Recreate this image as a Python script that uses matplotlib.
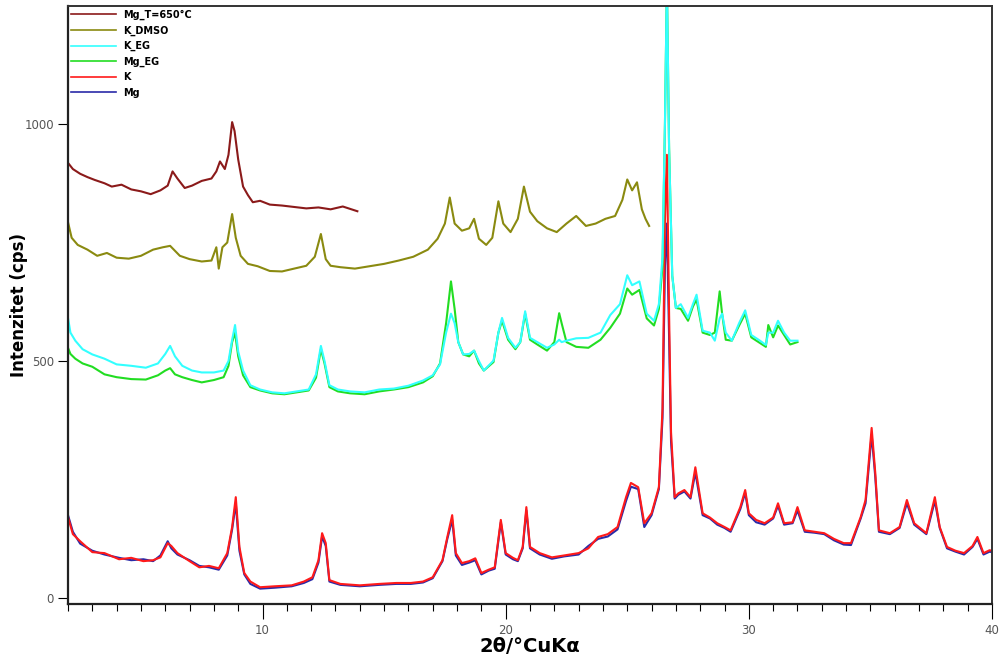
import matplotlib
matplotlib.use("Agg")
import matplotlib.pyplot as plt
from matplotlib.ticker import MultipleLocator

# ---------------- data ----------------
x_650 = [2.0, 2.2, 2.5, 2.8, 3.1, 3.5, 3.8, 4.2, 4.6, 5.0, 5.4, 5.8, 6.1, 6.3, 6.5, 6.8,
         7.1, 7.5, 7.9, 8.1, 8.25, 8.45, 8.6, 8.75, 8.85, 9.0, 9.2, 9.4, 9.6, 9.9, 10.3,
         10.8, 11.3, 11.8, 12.3, 12.8, 13.3, 13.9]
mg_650 = [918, 905, 895, 888, 882, 875, 868, 872, 862, 858, 852, 860, 870, 900, 885, 865,
          870, 880, 885, 900, 921, 905, 935, 1004, 985, 925, 868, 850, 835, 838, 830,
          828, 825, 822, 824, 820, 826, 816]

x_dmso = [2.0, 2.15, 2.4, 2.8, 3.2, 3.6, 4.0, 4.5, 5.0, 5.5, 5.9, 6.2, 6.6, 7.0, 7.5, 7.9,
          8.1, 8.2, 8.35, 8.55, 8.75, 8.9, 9.1, 9.4, 9.8, 10.3, 10.8, 11.3, 11.8, 12.15,
          12.4, 12.6, 12.8, 13.2, 13.8, 14.4, 15.0, 15.6, 16.2, 16.8, 17.2, 17.5, 17.7,
          17.9, 18.2, 18.5, 18.7, 18.9, 19.2, 19.45, 19.7, 19.9, 20.2, 20.5, 20.75, 21.0,
          21.3, 21.7, 22.1, 22.5, 22.9, 23.3, 23.7, 24.1, 24.5, 24.8, 25.0, 25.2, 25.4,
          25.6, 25.75, 25.9]
k_dmso = [793, 760, 745, 735, 722, 728, 718, 716, 722, 735, 740, 743, 722, 715, 710, 712,
          740, 695, 740, 750, 810, 760, 722, 705, 700, 690, 689, 695, 701, 720,
          768, 715, 701, 698, 695, 700, 705, 712, 720, 735, 758, 790, 845,
          790, 775, 780, 800, 758, 745, 760, 837, 790, 772, 800, 868, 815,
          795, 780, 772, 790, 806, 785, 790, 800, 806, 840, 883, 860, 877,
          820, 800, 785]

x_eg = [2.0, 2.1, 2.3, 2.6, 3.0, 3.5, 4.0, 4.6, 5.2, 5.7, 6.0, 6.2, 6.4, 6.7, 7.1, 7.5,
        8.0, 8.4, 8.6, 8.75, 8.87, 9.0, 9.2, 9.5, 9.9, 10.4, 10.9, 11.4, 11.9, 12.2, 12.4,
        12.55, 12.75, 13.1, 13.6, 14.2, 14.8, 15.4, 16.0, 16.6, 17.0, 17.3, 17.55, 17.75,
        17.9, 18.05, 18.25, 18.5, 18.7, 18.9, 19.1, 19.5, 19.7, 19.85, 20.1, 20.4, 20.6,
        20.8, 21.0, 21.3, 21.7, 22.0, 22.2, 22.3, 22.5, 22.9, 23.4, 23.9, 24.3, 24.7,
        25.0, 25.2, 25.5, 25.8, 26.1, 26.3, 26.45, 26.55, 26.63, 26.72, 26.85, 27.0,
        27.2, 27.5, 27.7, 27.85, 28.1, 28.4, 28.6, 28.8, 28.9, 29.05, 29.3, 29.6, 29.85,
        30.1, 30.4, 30.7, 30.8, 31.0, 31.2, 31.45, 31.7, 32.0]
k_eg = [591, 560, 543, 525, 514, 505, 493, 490, 486, 495, 515, 532, 510, 490, 480, 476,
        476, 480, 500, 545, 576, 520, 480, 449, 440, 434, 432, 436, 440, 472, 532,
        500, 449, 440, 436, 434, 440, 442, 448, 459, 470, 493, 560, 600,
        580, 540, 514, 515, 522, 500, 480, 501, 560, 591, 549, 528, 540,
        605, 549, 540, 528, 535, 545, 540, 543, 548, 549, 560, 597, 620,
        681, 660, 668, 600, 585, 620, 720, 1000, 1300, 950, 680, 612,
        620, 591, 620, 640, 564, 560, 543, 590, 600, 560, 543, 580, 607,
        555, 545, 534, 560, 560, 585, 560, 543, 543]
mg_eg = [528, 515, 505, 495, 488, 472, 466, 462, 461, 470, 480, 485, 472, 466, 460, 455,
         460, 466, 490, 540, 560, 510, 470, 445, 438, 432, 430, 434, 438, 465, 525,
         495, 445, 436, 432, 430, 436, 440, 445, 455, 468, 495, 580, 668,
         610, 540, 514, 510, 522, 495, 480, 498, 560, 585, 545, 525, 540,
         600, 545, 535, 522, 540, 601, 580, 540, 530, 528, 545, 570, 600,
         653, 640, 650, 590, 575, 610, 700, 1000, 1300, 950, 680, 612,
         610, 585, 615, 630, 560, 555, 560, 647, 600, 545, 543, 575, 600,
         550, 540, 530, 576, 550, 575, 555, 535, 540]

x_base = [2.0, 2.2, 2.5, 3.0, 3.5, 4.1, 4.6, 5.1, 5.5, 5.8, 6.1, 6.25, 6.5, 7.0, 7.4, 7.8,
          8.2, 8.55, 8.75, 8.9, 9.05, 9.25, 9.5, 9.9, 10.5, 11.2, 11.7, 12.05, 12.3, 12.45,
          12.6, 12.75, 13.2, 14.0, 14.8, 15.5, 16.1, 16.6, 17.0, 17.4, 17.6, 17.8, 17.95,
          18.2, 18.5, 18.75, 19.0, 19.3, 19.55, 19.8, 20.0, 20.3, 20.5, 20.7, 20.85, 21.0,
          21.4, 21.9, 22.4, 23.0, 23.4, 23.8, 24.2, 24.6, 24.95, 25.15, 25.45, 25.7, 26.0,
          26.3, 26.45, 26.55, 26.63, 26.72, 26.8, 26.95, 27.1, 27.35, 27.6, 27.8, 28.1,
          28.4, 28.7, 29.0, 29.25, 29.65, 29.85, 30.0, 30.3, 30.65, 31.0, 31.2, 31.45,
          31.8, 32.0, 32.3, 32.7, 33.1, 33.5, 33.9, 34.2, 34.6, 34.8, 35.05, 35.2, 35.35,
          35.8, 36.2, 36.5, 36.8, 37.3, 37.65, 37.85, 38.15, 38.5, 38.85, 39.2, 39.4,
          39.65, 39.9, 40.0]
k_base = [171, 135, 120, 97, 95, 82, 85, 78, 80, 86, 116, 110, 95, 78, 65, 68,
          63, 95, 150, 213, 108, 53, 35, 23, 25, 27, 35, 44, 80, 137,
          116, 38, 30, 27, 30, 32, 32, 35, 44, 80, 129, 175, 95,
          74, 78, 84, 53, 60, 65, 165, 95, 85, 80, 108, 192, 108,
          95, 86, 90, 95, 105, 129, 135, 150, 213, 243, 234, 158, 179,
          234, 400, 800, 935, 600, 350, 213, 221, 228, 213, 276, 179,
          170, 158, 150, 143, 192, 228, 179, 165, 158, 170, 200, 158,
          160, 192, 143, 140, 137, 125, 116, 116, 171, 207, 359, 264, 143,
          137, 150, 207, 158, 137, 213, 150, 108, 100, 95, 110, 129,
          95, 101, 100]
mg_base = [175, 140, 115, 100, 92, 85, 80, 82, 78, 90, 120, 105, 92, 80, 68, 65,
           60, 90, 145, 200, 100, 50, 30, 20, 22, 25, 32, 40, 75, 130,
           110, 35, 28, 25, 28, 30, 30, 33, 42, 78, 125, 165, 90,
           70, 75, 80, 50, 58, 62, 160, 92, 82, 78, 105, 185, 105,
           92, 83, 88, 92, 110, 125, 130, 145, 205, 235, 230, 150, 175,
           230, 380, 700, 790, 550, 330, 210, 218, 225, 210, 265, 175,
           168, 155, 148, 140, 188, 222, 175, 160, 155, 168, 195, 155,
           158, 185, 140, 138, 135, 122, 113, 112, 168, 200, 345, 255, 140,
           135, 148, 200, 155, 135, 205, 148, 105, 98, 92, 108, 125,
           92, 98, 97]

labels = ["Mg_T=650°C", "K_DMSO", "K_EG", "Mg_EG", "K", "Mg"]
colors = ["#8b1a1a", "#8a8a10", "#33ffff", "#22dd22", "#ff1a1a", "#2a2aa8"]

# ---------------- figure ----------------
fig = plt.figure(figsize=(10, 6.59), dpi=100)
ax = fig.add_axes([0.068, 0.083, 0.924, 0.908])

lw = 1.5
h_mg, = ax.plot(x_base, mg_base, color=colors[5], lw=lw, label=labels[5])
h_k, = ax.plot(x_base, k_base, color=colors[4], lw=lw, label=labels[4])
h_mgeg, = ax.plot(x_eg, mg_eg, color=colors[3], lw=lw, label=labels[3])
h_keg, = ax.plot(x_eg, k_eg, color=colors[2], lw=lw, label=labels[2])
h_dmso, = ax.plot(x_dmso, k_dmso, color=colors[1], lw=lw, label=labels[1])
h_650, = ax.plot(x_650, mg_650, color=colors[0], lw=lw, label=labels[0])

ax.set_xlim(2, 40)
ax.set_ylim(-13, 1249)

ax.xaxis.set_major_locator(MultipleLocator(10))
ax.xaxis.set_minor_locator(MultipleLocator(1))
ax.set_yticks([0, 500, 1000])
ax.tick_params(axis="x", which="major", direction="out", length=11, width=0.8,
               labelsize=8.5, labelcolor="#555555", pad=3)
ax.tick_params(axis="x", which="minor", direction="out", length=5, width=0.8)
ax.tick_params(axis="y", which="major", direction="out", length=7, width=0.8,
               labelsize=8.5, labelcolor="#555555", pad=3)

for s in ["left", "bottom"]:
    ax.spines[s].set_linewidth(1.6)
    ax.spines[s].set_color("#222222")
for s in ["top", "right"]:
    ax.spines[s].set_linewidth(1.4)
    ax.spines[s].set_color("#333333")

ax.set_xlabel("2θ/°CuKα", fontsize=14, fontweight="bold", labelpad=0)
ax.set_ylabel("Intenzitet (cps)", fontsize=12, fontweight="bold")
ax.yaxis.set_label_coords(-0.043, 0.5)

leg = ax.legend(handles=[h_650, h_dmso, h_keg, h_mgeg, h_k, h_mg],
                loc="upper left", bbox_to_anchor=(-0.004, 1.005), frameon=False,
                prop={"size": 7, "weight": "bold"}, handlelength=4.6,
                handletextpad=0.7, labelspacing=0.55, borderaxespad=0.3)
for line in leg.get_lines():
    line.set_linewidth(1.2)

fig.savefig("out.png", dpi=100)
